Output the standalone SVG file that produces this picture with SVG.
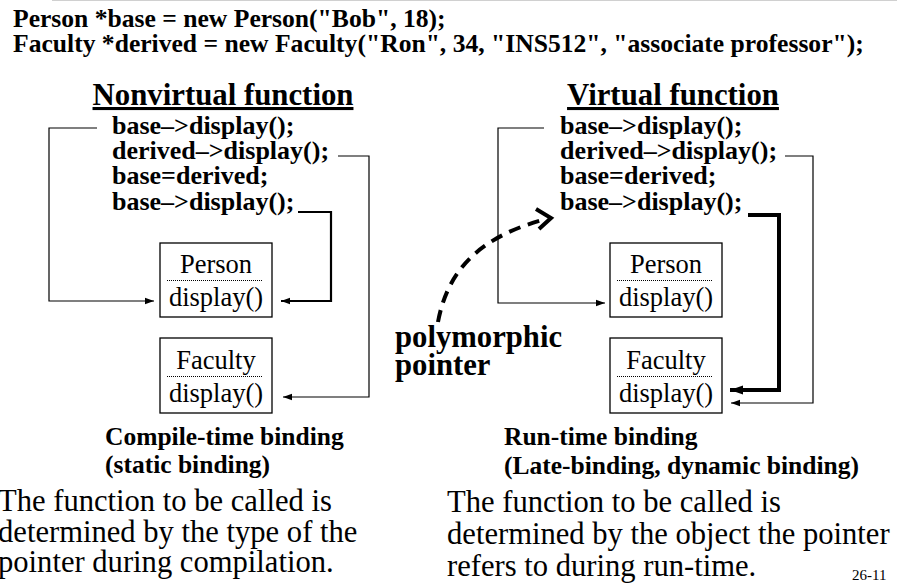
<svg xmlns="http://www.w3.org/2000/svg" width="897" height="584" viewBox="0 0 897 584" font-family="'Liberation Serif', 'Times New Roman', 'DejaVu Serif', serif">
<style>
text{font-family:'Liberation Serif','Times New Roman','DejaVu Serif',serif;fill:#000}
.b{font-weight:bold}
.hdr{font-size:25.6px;font-weight:bold}
.ttl{font-size:30.8px;font-weight:bold;text-decoration:underline}
.code{font-size:26px;font-weight:bold}
.box{fill:#fff;stroke:#000;stroke-width:1.3}
.dot{stroke:#000;stroke-width:1;stroke-dasharray:1 1}
.bt{font-size:26.5px;text-anchor:middle}
.cap{font-size:25.5px;font-weight:bold}
.body{font-size:30.6px}
.thin{fill:none;stroke:#000;stroke-width:1.2}
.mid{fill:none;stroke:#000;stroke-width:2.2}
.thick{fill:none;stroke:#000;stroke-width:4}
</style>
<defs>
<marker id="a" markerUnits="userSpaceOnUse" markerWidth="10" markerHeight="8" refX="9" refY="4" orient="auto"><path d="M0,0.8 L9,4 L0,7.2 z" fill="#000"/></marker>
<marker id="ab" markerUnits="userSpaceOnUse" markerWidth="14" markerHeight="12" refX="13" refY="6" orient="auto"><path d="M0,1.5 L13,6 L0,10.5 z" fill="#000"/></marker>
</defs>
<line x1="52" y1="0.5" x2="897" y2="0.5" stroke="#d0d0d0" stroke-width="1"/>
<g id="header">
<text class="hdr" x="13" y="27">Person *base = new Person("Bob", 18);</text>
<text class="hdr" x="13" y="52">Faculty *derived = new Faculty("Ron", 34, "INS512", "associate professor");</text>
</g>
<g id="title-left"><text class="ttl" x="223" y="105" text-anchor="middle">Nonvirtual function</text></g>
<g id="title-right"><text class="ttl" x="673" y="105" text-anchor="middle">Virtual function</text></g>
<g id="code-left">
<text class="code" x="112" y="134">base–&gt;display();</text>
<text class="code" x="112" y="159">derived–&gt;display();</text>
<text class="code" x="112" y="184">base=derived;</text>
<text class="code" x="112" y="210">base–&gt;display();</text>
</g>
<g id="code-right">
<text class="code" x="560" y="134">base–&gt;display();</text>
<text class="code" x="560" y="159">derived–&gt;display();</text>
<text class="code" x="560" y="184">base=derived;</text>
<text class="code" x="560" y="210">base–&gt;display();</text>
</g>
<g id="person-left">
<rect class="box" x="160" y="243" width="112" height="74"/>
<line class="dot" x1="167" y1="280.5" x2="263" y2="280.5"/>
<text class="bt" x="216" y="273">Person</text>
<text class="bt" x="216" y="306">display()</text>
</g>
<g id="faculty-left">
<rect class="box" x="160" y="338" width="112" height="75"/>
<line class="dot" x1="167" y1="376.5" x2="263" y2="376.5"/>
<text class="bt" x="216" y="369">Faculty</text>
<text class="bt" x="216" y="402">display()</text>
</g>
<g id="person-right">
<rect class="box" x="610" y="243" width="112" height="74"/>
<line class="dot" x1="617" y1="280.5" x2="713" y2="280.5"/>
<text class="bt" x="666" y="273">Person</text>
<text class="bt" x="666" y="306">display()</text>
</g>
<g id="faculty-right">
<rect class="box" x="610" y="338" width="112" height="75"/>
<line class="dot" x1="617" y1="376.5" x2="713" y2="376.5"/>
<text class="bt" x="666" y="369">Faculty</text>
<text class="bt" x="666" y="402">display()</text>
</g>
<g id="connectors">
<polyline class="thin" points="97,128 49,128 49,301 154,301" marker-end="url(#a)"/>
<polyline class="thin" points="338,156 369,156 369,397 283,397" marker-end="url(#a)"/>
<polyline class="mid" points="298,212 331,212 331,301 281,301" marker-end="url(#a)"/>
<polyline class="thin" points="544,128 498,128 498,303 605,303" marker-end="url(#a)"/>
<polyline class="thin" points="785,156 813,156 813,403 731,403" marker-end="url(#a)"/>
<polyline class="thick" points="748,215 779,215 779,390 730,390" marker-end="url(#ab)"/>
<path d="M438,322 C448,268 482,236 546,219" fill="none" stroke="#000" stroke-width="4" stroke-dasharray="12 8"/>
<polyline points="536,209 551,218 539,229" fill="none" stroke="#000" stroke-width="4"/>
</g>
<g id="poly-label">
<text class="b" font-size="30.7" x="395" y="347">polymorphic</text>
<text class="b" font-size="30.7" x="395" y="375">pointer</text>
</g>
<g id="captions">
<text class="cap" x="105" y="445">Compile-time binding</text>
<text class="cap" x="105" y="473">(static binding)</text>
<text class="cap" x="504" y="445">Run-time binding</text>
<text class="cap" x="504" y="474">(Late-binding, dynamic binding)</text>
</g>
<g id="body">
<text class="body" x="-2" y="511">The function to be called is</text>
<text class="body" x="-2" y="542">determined by the type of the</text>
<text class="body" x="-2" y="572">pointer during compilation.</text>
<text class="body" x="447" y="512">The function to be called is</text>
<text class="body" x="447" y="544">determined by the object the pointer</text>
<text class="body" x="447" y="576">refers to during run-time.</text>
<text font-size="15" x="852" y="580">26-11</text>
</g>
</svg>
